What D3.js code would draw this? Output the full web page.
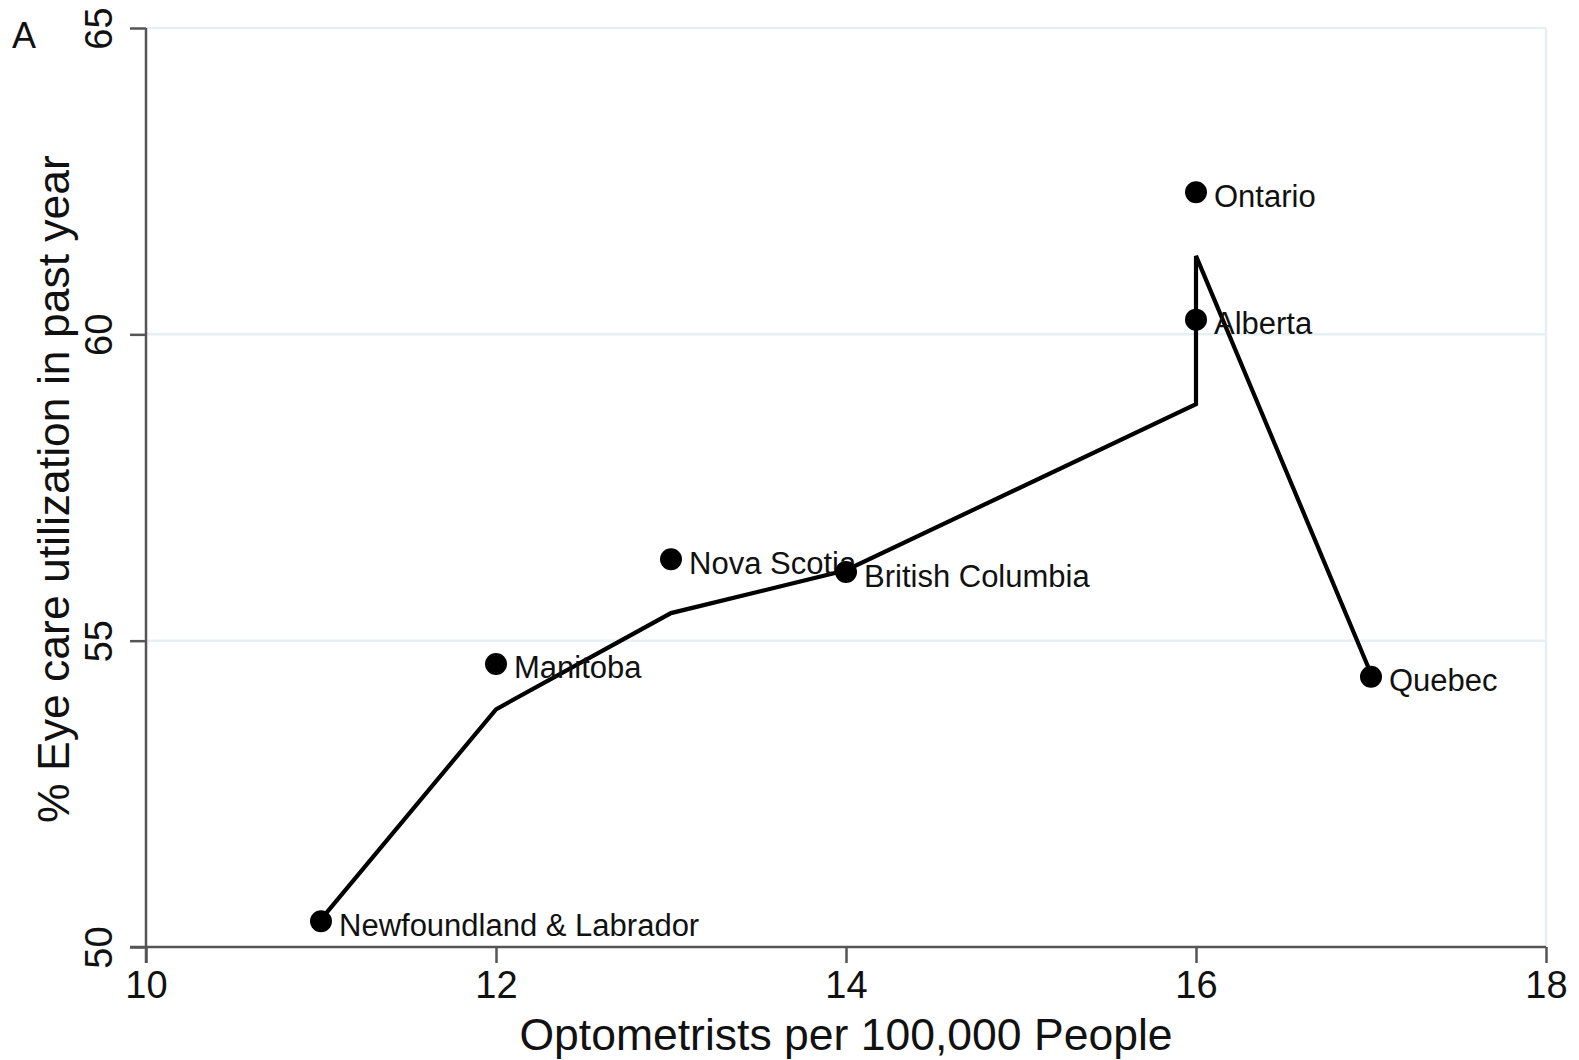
<!DOCTYPE html>
<html>
<head>
<meta charset="utf-8">
<script src="https://cdn.jsdelivr.net/npm/d3@7"></script>
<style>
  html, body { margin: 0; padding: 0; background: #fff; }
  svg { display: block; font-family: "Liberation Sans", Arial, Helvetica, sans-serif; }
</style>
</head>
<body>
<svg id="chart" width="1579" height="1060"></svg>
<script>
// Provinces: optometrists per 100,000 people and % eye care utilization in past year
const provinces = ["Newfoundland & Labrador", "Manitoba", "Nova Scotia", "British Columbia", "Ontario", "Alberta", "Quebec"];
const optometrists = [11, 12, 13, 14, 16, 16, 17];
const utilization = [50.42, 54.62, 56.33, 56.12, 62.32, 60.24, 54.41];

// Fitted curve, ordered by x
const fitX = [11, 12, 13, 14, 16, 16, 17];
const fitY = [50.45, 53.88, 55.45, 56.15, 58.86, 61.28, 54.46];

const xTicks = [10, 12, 14, 16, 18];
const yTicks = [50, 55, 60, 65];

(function draw() {
  const svg = d3.select("#chart");
  const plotLeft = 146, plotRight = 1546, plotTop = 28, plotBottom = 947;
  const ink = "#111";

  const x = d3.scaleLinear().domain([10, 18]).range([plotLeft, plotRight]);
  const y = d3.scaleLinear().domain([50, 65]).range([plotBottom, plotTop]);

  // Light horizontal gridlines and the right frame line
  svg.append("g").selectAll("line").data(yTicks.filter(d => d > 50)).join("line")
    .attr("x1", plotLeft).attr("x2", plotRight)
    .attr("y1", d => y(d)).attr("y2", d => y(d))
    .attr("stroke", "#e6eff1").attr("stroke-width", 2.5);
  svg.append("line")
    .attr("x1", x(18)).attr("x2", x(18)).attr("y1", y(65)).attr("y2", y(50))
    .attr("stroke", "#e6eff1").attr("stroke-width", 2.5);

  // Axes
  const tick = 16;
  const xAxis = d3.axisBottom(x).tickValues(xTicks).tickSize(tick).tickSizeOuter(0).tickPadding(8);
  const yAxis = d3.axisLeft(y).tickValues(yTicks).tickSize(tick).tickSizeOuter(0);

  const gx = svg.append("g").attr("transform", `translate(0,${plotBottom})`).call(xAxis);
  gx.select(".domain").attr("stroke", "#555").attr("stroke-width", 2.5).attr("d", `M${plotLeft - tick},0H${plotRight}`);
  gx.selectAll(".tick line").attr("stroke", "#555").attr("stroke-width", 2.5);
  gx.selectAll(".tick text").attr("font-size", 38).attr("fill", ink)
    .attr("font-family", "Liberation Sans, Arial, sans-serif");

  const gy = svg.append("g").attr("transform", `translate(${plotLeft},0)`).call(yAxis);
  gy.select(".domain").attr("stroke", "#555").attr("stroke-width", 2.5).attr("d", `M0,${plotTop}V${plotBottom + tick}`);
  gy.selectAll(".tick line").attr("stroke", "#555").attr("stroke-width", 2.5);
  gy.selectAll(".tick text")
    .attr("font-size", 38).attr("fill", ink)
    .attr("font-family", "Liberation Sans, Arial, sans-serif")
    .attr("text-anchor", "middle")
    .attr("dy", null).attr("x", null)
    .attr("transform", "translate(-47,0) rotate(-90)")
    .attr("dominant-baseline", "central");

  // Axis titles
  svg.append("text")
    .attr("x", (plotLeft + plotRight) / 2).attr("y", 1050)
    .attr("text-anchor", "middle").attr("font-size", 44.5).attr("fill", ink)
    .text("Optometrists per 100,000 People");
  svg.append("text")
    .attr("transform", "translate(69,489) rotate(-90)")
    .attr("text-anchor", "middle").attr("font-size", 44.5).attr("fill", ink)
    .text("% Eye care utilization in past year");

  // Panel letter
  svg.append("text").attr("x", 12).attr("y", 48).attr("font-size", 36).attr("fill", ink).text("A");

  // Fitted line
  const line = d3.line().x((d, i) => x(fitX[i])).y(d => y(d));
  svg.append("path").datum(fitY).attr("d", line)
    .attr("fill", "none").attr("stroke", "#000").attr("stroke-width", 4.2)
    .attr("stroke-linejoin", "miter");

  // Province markers and labels
  const pts = svg.append("g").selectAll("g").data(provinces).join("g")
    .attr("transform", (d, i) => `translate(${x(optometrists[i])},${y(utilization[i])})`);
  pts.append("circle").attr("r", 11).attr("fill", "#000");
  pts.append("text").attr("x", 18).attr("y", 4).attr("dominant-baseline", "central")
    .attr("font-size", 31).attr("fill", ink).text(d => d);
})();
</script>
</body>
</html>
